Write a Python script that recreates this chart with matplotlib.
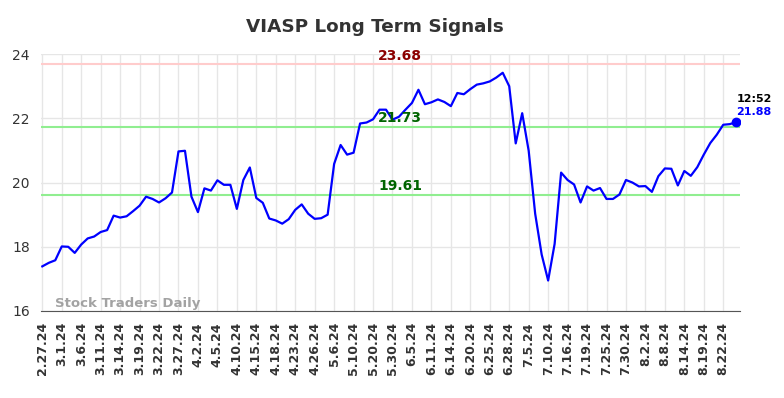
import numpy as np
import matplotlib
matplotlib.use("Agg")
import matplotlib.pyplot as plt

# closing prices, one per trading day shown on the chart
prices = [
    17.39, 17.50, 17.58, 18.01, 18.00, 17.81, 18.07, 18.26, 18.32, 18.46,
    18.52, 18.97, 18.91, 18.95, 19.11, 19.28, 19.56, 19.49, 19.38, 19.51,
    19.69, 20.97, 20.99, 19.56, 19.08, 19.82, 19.75, 20.07, 19.93, 19.93,
    19.18, 20.08, 20.47, 19.52, 19.37, 18.88, 18.82, 18.72, 18.86, 19.15,
    19.32, 19.03, 18.87, 18.89, 19.00, 20.58, 21.17, 20.87, 20.93, 21.84,
    21.87, 21.97, 22.27, 22.27, 21.96, 22.05, 22.27, 22.48, 22.89, 22.44,
    22.50, 22.59, 22.51, 22.38, 22.79, 22.75, 22.91, 23.05, 23.09, 23.15,
    23.27, 23.42, 23.00, 21.22, 22.16, 20.99, 19.03, 17.76, 16.95, 18.09,
    20.31, 20.08, 19.94, 19.38, 19.88, 19.75, 19.83, 19.49, 19.49, 19.63,
    20.08, 20.00, 19.88, 19.89, 19.71, 20.20, 20.44, 20.43, 19.91, 20.36,
    20.21, 20.48, 20.87, 21.23, 21.49, 21.80, 21.82, 21.88,
]

tick_labels = [
    "2.27.24", "3.1.24", "3.6.24", "3.11.24", "3.14.24", "3.19.24",
    "3.22.24", "3.27.24", "4.2.24", "4.5.24", "4.10.24", "4.15.24",
    "4.18.24", "4.23.24", "4.26.24", "5.6.24", "5.10.24", "5.20.24",
    "5.30.24", "6.5.24", "6.11.24", "6.14.24", "6.20.24", "6.25.24",
    "6.28.24", "7.5.24", "7.10.24", "7.16.24", "7.19.24", "7.25.24",
    "7.30.24", "8.2.24", "8.8.24", "8.14.24", "8.19.24", "8.22.24",
]
tick_step = 3

resistance = 23.68
mid_level = 21.73
support = 19.61
last_time = "12:52"

x = np.arange(len(prices))

fig = plt.figure(figsize=(7.84, 3.98), dpi=100)
ax = fig.add_axes([0.0523, 0.2186, 0.8917, 0.6454])

ax.plot(x, prices, color="blue", linewidth=1.6, zorder=3)
ax.plot(x[-1], prices[-1], "o", color="blue", markersize=6, zorder=4)

ax.axhline(resistance, color="#ffcccc", linewidth=1.5, zorder=2)
ax.axhline(mid_level, color="#90ee90", linewidth=1.5, zorder=2)
ax.axhline(support, color="#90ee90", linewidth=1.5, zorder=2)

mid_x = 55.2
ax.text(mid_x, resistance + 0.05, f"{resistance:.2f}", color="#8b0000",
        fontsize=10, fontweight="bold", ha="center", va="bottom")
ax.text(mid_x, mid_level + 0.05, f"{mid_level:.2f}", color="#006400",
        fontsize=10, fontweight="bold", ha="center", va="bottom")
ax.text(mid_x, support + 0.05, f"{support:.2f}", color="#006400",
        fontsize=10, fontweight="bold", ha="center", va="bottom")

ax.text(x[-1], prices[-1] + 0.58, last_time, color="black", fontsize=8,
        fontweight="bold", ha="left", va="bottom", clip_on=False)
ax.text(x[-1], prices[-1] + 0.15, f"{prices[-1]:.2f}", color="blue", fontsize=8,
        fontweight="bold", ha="left", va="bottom", clip_on=False)

ax.text(2, 16.04, "Stock Traders Daily", color="#999999", fontsize=9.5,
        fontweight="bold", ha="left", va="bottom", alpha=0.9)

ax.set_xlim(-0.2, 107.6)
ax.set_ylim(16, 24)
ax.set_yticks([16, 18, 20, 22, 24])
ax.set_xticks(np.arange(len(tick_labels)) * tick_step)
ax.set_xticklabels(tick_labels, rotation=90, fontsize=9, fontweight="bold")
ax.tick_params(axis="both", length=0, labelcolor="#333333")
ax.tick_params(axis="y", labelsize=10, pad=8)
ax.tick_params(axis="x", pad=8)

ax.grid(True, color="#e6e6e6", linewidth=1)
ax.set_axisbelow(True)
for side in ["left", "right", "top"]:
    ax.spines[side].set_visible(False)
ax.spines["bottom"].set_color("#555555")

fig.suptitle("VIASP Long Term Signals", x=0.478, y=0.955, fontsize=13.2,
             fontweight="bold", color="#333333")

fig.savefig("out.png", dpi=100)
